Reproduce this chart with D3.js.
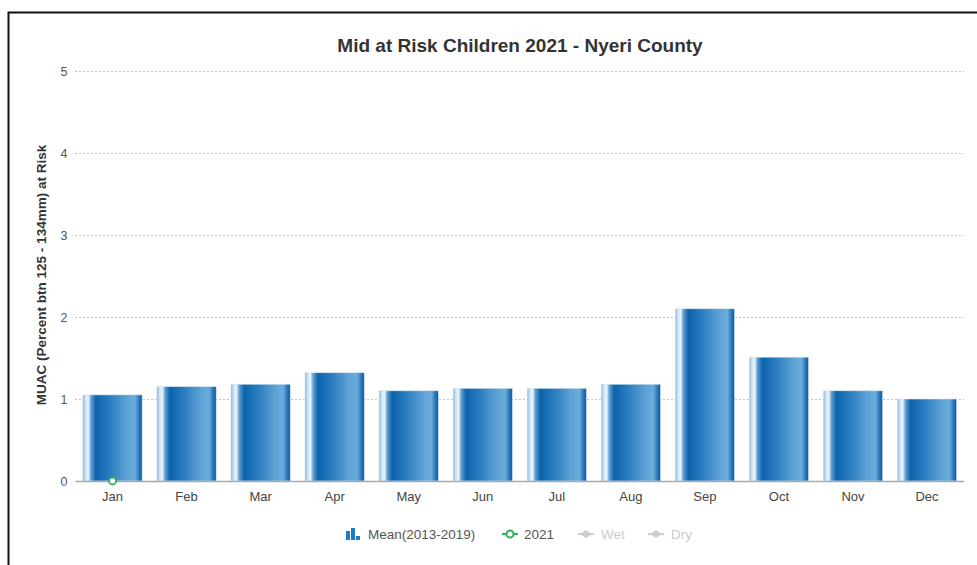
<!DOCTYPE html>
<html>
<head>
<meta charset="utf-8">
<script src="https://cdn.jsdelivr.net/npm/d3@7"></script>
<style>
html,body{margin:0;padding:0;background:#fff;}
svg{display:block;}
text{font-family:"Liberation Sans",Arial,Helvetica,sans-serif;}
</style>
</head>
<body>
<svg id="chart" width="977" height="565"></svg>
<script>
const months = ["Jan","Feb","Mar","Apr","May","Jun","Jul","Aug","Sep","Oct","Nov","Dec"];
const meanValues = [1.05,1.15,1.18,1.32,1.10,1.13,1.13,1.18,2.10,1.51,1.10,1.00];
const values2021 = [0];
const yTicks = [0,1,2,3,4,5];
const legendItems = ["Mean(2013-2019)","2021","Wet","Dry"];
const title = "Mid at Risk Children 2021 - Nyeri County";
const yTitle = "MUAC (Percent btn 125 - 134mm) at Risk";

const svg = d3.select("#chart");
const W = 977, H = 565;
const m = {left:75.5, right:964, top:71, bottom:481};

// frame
svg.append("path").attr("d",`M8.5,${H} L8.5,12.5 L${W},12.5`).attr("fill","none").attr("stroke","#111").attr("stroke-width",2);

const x = d3.scaleBand().domain(months).range([m.left,m.right]).paddingInner(0.2).paddingOuter(0.1);
const y = d3.scaleLinear().domain([0,5]).range([m.bottom,m.top]);

// gradient
const defs = svg.append("defs");
const g = defs.append("linearGradient").attr("id","barGrad").attr("x1","0").attr("x2","1").attr("y1","0").attr("y2","0");
[[0,"#7fb0d9"],[0.04,"#c9e0f2"],[0.09,"#eef6fc"],[0.14,"#5d9ed2"],[0.22,"#0b63ac"],[0.45,"#2a7cbf"],[0.75,"#5fa3d6"],[0.88,"#6aaddc"],[0.95,"#2a76b8"],[1,"#0a5ba3"]]
  .forEach(([o,c])=>g.append("stop").attr("offset",o).attr("stop-color",c));

// grid
const grid = svg.append("g");
yTicks.filter(t=>t>0).forEach(t=>{
  grid.append("line").attr("x1",m.left).attr("x2",m.right).attr("y1",y(t)+0.5).attr("y2",y(t)+0.5)
    .attr("stroke","#888").attr("stroke-width",1).attr("stroke-dasharray","1,3");
});

// y axis labels
const yAxis = d3.axisLeft(y).tickValues(yTicks).tickSize(0).tickPadding(0).tickFormat(d3.format("d"));
const ya = svg.append("g").attr("transform",`translate(${m.left-8},0)`).call(yAxis);
ya.select(".domain").remove();
ya.selectAll("text").attr("fill","#555").attr("font-size",12.5).attr("dy","0.32em");

// bars
svg.append("g").selectAll("rect").data(meanValues).join("rect")
  .attr("x",(d,i)=>x(months[i]))
  .attr("y",d=>y(d))
  .attr("width",x.bandwidth())
  .attr("height",d=>y(0)-y(d))
  .attr("fill","url(#barGrad)")
  .attr("stroke","#cfe3f3").attr("stroke-width",0.6);

// x axis
const xAxis = d3.axisBottom(x).tickSize(0).tickPadding(11);
const xa = svg.append("g").attr("transform",`translate(0,${m.bottom})`).call(xAxis);
xa.select(".domain").attr("stroke","#aaa").attr("stroke-width",1.5).attr("d",`M${m.left},0.5H${m.right}`);
xa.selectAll("text").attr("fill","#444").attr("font-size",13);

// 2021 series
svg.append("g").selectAll("circle").data(values2021).join("circle")
  .attr("cx",(d,i)=>x(months[i])+x.bandwidth()/2)
  .attr("cy",d=>y(d))
  .attr("r",3.5).attr("fill","#fff").attr("stroke","#2db35a").attr("stroke-width",1.8);

// title
svg.append("text").attr("x",520).attr("y",52).attr("text-anchor","middle")
  .attr("font-size",19).attr("font-weight","bold").attr("fill","#333").text(title);

// y title
svg.append("text").attr("transform",`translate(46,275) rotate(-90)`).attr("text-anchor","middle")
  .attr("font-size",13.5).attr("font-weight","bold").attr("fill","#333").text(yTitle);

// legend
const lg = svg.append("g").attr("transform","translate(0,534)");
const bi = lg.append("g").attr("transform","translate(346,0)");
[[0,-3,9],[5,-6,12],[10,2,4]].forEach(([dx,yy,h])=>bi.append("rect").attr("x",dx).attr("y",yy).attr("width",4).attr("height",h).attr("fill","#1f7ac8"));
lg.append("text").attr("x",368).attr("y",0).attr("dy","0.35em").attr("font-size",13.5).attr("fill","#555").text(legendItems[0]);
lg.append("line").attr("x1",502).attr("x2",518).attr("y1",0).attr("y2",0).attr("stroke","#2db35a").attr("stroke-width",2);
lg.append("circle").attr("cx",510).attr("cy",0).attr("r",3.5).attr("fill","#fff").attr("stroke","#2db35a").attr("stroke-width",2);
lg.append("text").attr("x",524).attr("y",0).attr("dy","0.35em").attr("font-size",13.5).attr("fill","#555").text(legendItems[1]);
const diamond = "M-6,0L0,-4L6,0L0,4Z";
[[586,601,2],[656,671,3]].forEach(([cx,tx,i])=>{
  lg.append("line").attr("x1",cx-8).attr("x2",cx+8).attr("y1",0).attr("y2",0).attr("stroke","#ccc").attr("stroke-width",2);
  lg.append("path").attr("d",diamond).attr("transform",`translate(${cx},0)`).attr("fill","#ccc");
  lg.append("text").attr("x",tx).attr("y",0).attr("dy","0.35em").attr("font-size",13.5).attr("fill","#ccc").text(legendItems[i]);
});
</script>
</body>
</html>
